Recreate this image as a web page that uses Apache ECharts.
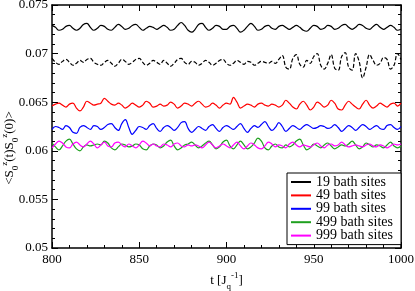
<!DOCTYPE html>
<html><head><meta charset="utf-8">
<script src="https://cdn.jsdelivr.net/npm/echarts@6/dist/echarts.min.js"></script>
<style>html,body{margin:0;padding:0;background:#fff}#c{width:415px;height:291px}</style>
</head><body><div id="c"></div>
<script>
const times = [];
for (let t = 800; t <= 1000; t += 2) times.push(t);

const sites19 = [
0.0729,0.0727,0.0724,0.0725,0.0728,0.0729,0.0726,0.0724,0.0726,0.0730,
0.0731,0.0727,0.0724,0.0726,0.0729,0.0728,0.0725,0.0724,0.0727,0.0730,
0.0728,0.0725,0.0726,0.0729,0.0730,0.0727,0.0724,0.0726,0.0728,0.0727,
0.0725,0.0727,0.0729,0.0727,0.0724,0.0725,0.0729,0.0732,0.0729,0.0724,
0.0722,0.0725,0.0730,0.0731,0.0727,0.0724,0.0726,0.0729,0.0728,0.0725,
0.0725,0.0728,0.0729,0.0726,0.0722,0.0724,0.0728,0.0731,0.0728,0.0724,
0.0725,0.0728,0.0729,0.0726,0.0725,0.0728,0.0729,0.0727,0.0725,0.0727,
0.0729,0.0727,0.0724,0.0723,0.0726,0.0729,0.0728,0.0725,0.0726,0.0729,
0.0728,0.0725,0.0726,0.0729,0.0730,0.0727,0.0725,0.0727,0.0730,0.0729,
0.0726,0.0725,0.0728,0.0730,0.0727,0.0725,0.0727,0.0729,0.0727,0.0724,
0.0725];

const sites19Dashed = [
0.0695,0.0691,0.0689,0.0692,0.0694,0.0691,0.0688,0.0690,0.0693,0.0691,
0.0694,0.0695,0.0691,0.0689,0.0688,0.0691,0.0693,0.0690,0.0687,0.0690,
0.0694,0.0692,0.0689,0.0691,0.0694,0.0695,0.0691,0.0688,0.0690,0.0693,
0.0691,0.0689,0.0693,0.0690,0.0687,0.0690,0.0694,0.0695,0.0691,0.0689,
0.0692,0.0691,0.0688,0.0690,0.0693,0.0691,0.0688,0.0690,0.0693,0.0694,
0.0690,0.0688,0.0690,0.0693,0.0691,0.0689,0.0692,0.0691,0.0688,0.0690,
0.0692,0.0691,0.0690,0.0692,0.0690,0.0694,0.0698,0.0686,0.0684,0.0695,
0.0699,0.0689,0.0686,0.0693,0.0690,0.0697,0.0700,0.0688,0.0684,0.0690,
0.0699,0.0685,0.0683,0.0697,0.0701,0.0686,0.0683,0.0700,0.0692,0.0675,
0.0686,0.0699,0.0693,0.0688,0.0690,0.0696,0.0694,0.0684,0.0688,0.0700,
0.0694];

const sites49 = [
0.0646,0.0648,0.0649,0.0647,0.0645,0.0648,0.0649,0.0644,0.0641,0.0645,
0.0651,0.0649,0.0647,0.0648,0.0649,0.0654,0.0651,0.0648,0.0647,0.0649,
0.0647,0.0644,0.0646,0.0649,0.0647,0.0645,0.0647,0.0651,0.0649,0.0645,
0.0646,0.0648,0.0646,0.0647,0.0650,0.0648,0.0644,0.0646,0.0649,0.0648,
0.0646,0.0649,0.0651,0.0648,0.0645,0.0646,0.0649,0.0647,0.0644,0.0647,
0.0649,0.0648,0.0655,0.0650,0.0644,0.0646,0.0648,0.0647,0.0645,0.0648,
0.0649,0.0647,0.0646,0.0648,0.0647,0.0645,0.0647,0.0652,0.0649,0.0645,
0.0643,0.0648,0.0651,0.0647,0.0642,0.0645,0.0650,0.0648,0.0645,0.0647,
0.0652,0.0649,0.0643,0.0642,0.0647,0.0651,0.0648,0.0645,0.0643,0.0648,
0.0652,0.0647,0.0644,0.0646,0.0649,0.0647,0.0645,0.0648,0.0649,0.0646,
0.0649];

const sites99 = [
0.0622,0.0625,0.0624,0.0622,0.0626,0.0624,0.0619,0.0618,0.0624,0.0626,
0.0624,0.0622,0.0626,0.0625,0.0622,0.0624,0.0627,0.0628,0.0624,0.0621,
0.0628,0.0632,0.0624,0.0617,0.0621,0.0625,0.0624,0.0622,0.0626,0.0628,
0.0623,0.0620,0.0624,0.0626,0.0624,0.0621,0.0624,0.0629,0.0630,0.0623,
0.0619,0.0622,0.0625,0.0623,0.0621,0.0625,0.0627,0.0623,0.0620,0.0624,
0.0626,0.0624,0.0622,0.0625,0.0628,0.0623,0.0619,0.0623,0.0626,0.0624,
0.0627,0.0630,0.0625,0.0621,0.0624,0.0629,0.0625,0.0620,0.0623,0.0626,
0.0624,0.0622,0.0625,0.0627,0.0625,0.0623,0.0624,0.0626,0.0625,0.0623,
0.0624,0.0627,0.0624,0.0620,0.0623,0.0626,0.0624,0.0621,0.0624,0.0627,
0.0625,0.0622,0.0624,0.0626,0.0623,0.0622,0.0626,0.0627,0.0624,0.0622,
0.0625];

const sites499 = [
0.0608,0.0604,0.0601,0.0605,0.0610,0.0612,0.0607,0.0602,0.0600,0.0604,
0.0606,0.0605,0.0606,0.0607,0.0606,0.0610,0.0608,0.0603,0.0601,0.0604,
0.0607,0.0606,0.0604,0.0605,0.0607,0.0606,0.0602,0.0601,0.0605,0.0607,
0.0606,0.0603,0.0605,0.0609,0.0611,0.0605,0.0601,0.0603,0.0606,0.0607,
0.0609,0.0606,0.0603,0.0605,0.0608,0.0610,0.0606,0.0602,0.0604,0.0609,
0.0611,0.0605,0.0602,0.0606,0.0610,0.0606,0.0602,0.0604,0.0608,0.0613,
0.0610,0.0603,0.0601,0.0605,0.0607,0.0604,0.0603,0.0606,0.0604,0.0606,
0.0610,0.0612,0.0606,0.0601,0.0603,0.0607,0.0605,0.0603,0.0606,0.0608,
0.0605,0.0602,0.0604,0.0606,0.0605,0.0607,0.0610,0.0606,0.0602,0.0604,
0.0608,0.0606,0.0604,0.0606,0.0605,0.0603,0.0606,0.0609,0.0605,0.0603,
0.0605];

const sites999 = [
0.0603,0.0607,0.0610,0.0608,0.0604,0.0603,0.0607,0.0609,0.0606,0.0604,
0.0607,0.0610,0.0607,0.0603,0.0606,0.0609,0.0605,0.0604,0.0608,0.0609,
0.0606,0.0604,0.0607,0.0605,0.0603,0.0606,0.0610,0.0608,0.0605,0.0607,
0.0605,0.0604,0.0607,0.0606,0.0604,0.0607,0.0608,0.0605,0.0604,0.0606,
0.0605,0.0606,0.0605,0.0603,0.0606,0.0609,0.0606,0.0603,0.0605,0.0607,
0.0605,0.0603,0.0606,0.0609,0.0605,0.0602,0.0605,0.0608,0.0606,0.0603,
0.0602,0.0605,0.0609,0.0607,0.0604,0.0606,0.0605,0.0603,0.0607,0.0609,
0.0606,0.0604,0.0606,0.0605,0.0604,0.0606,0.0608,0.0605,0.0603,0.0606,
0.0607,0.0605,0.0606,0.0609,0.0606,0.0604,0.0605,0.0606,0.0605,0.0604,
0.0606,0.0607,0.0605,0.0604,0.0606,0.0605,0.0603,0.0605,0.0607,0.0606,
0.0607];

const legendNames = ['19 bath sites','49 bath sites','99 bath sites','499 bath sites','999 bath sites'];
const xTicks = [800, 850, 900, 950, 1000];
const yTicks = [0.05, 0.055, 0.06, 0.065, 0.07, 0.075];
const yTitle = '{m|<S}{sub|0}{sup|z}{m|(t)S}{sub|0}{sup|z}{m|(0)>}';
const xTitle = '{m|t [J}{sub|q}{sup|-1}{m|]}';

const FONT = '"Liberation Serif","DejaVu Serif",serif';
const pair = arr => arr.map((v, i) => [times[i], v]);

const chart = echarts.init(document.getElementById('c'), null, {renderer: 'canvas'});

const axisLine = {show: true, lineStyle: {color: '#000', width: 1.5}};
const tick = {show: true, inside: true, length: 6, lineStyle: {color: '#000', width: 1}};
const minor = {show: true, splitNumber: 5, length: 3, lineStyle: {color: '#000', width: 1}};

function line(name, data, color, dashed) {
  return {
    name, type: 'line', data: pair(data), showSymbol: false, symbol: 'none',
    smooth: 0.4, animation: false,
    lineStyle: {color, width: 1.2, type: dashed ? [4, 2] : 'solid'},
    itemStyle: {color}
  };
}

const richStyles = {
  m: {fontFamily: FONT, fontSize: 13, color: '#000', lineHeight: 20, verticalAlign: 'middle'},
  sub: {fontFamily: FONT, fontSize: 9, color: '#000', lineHeight: 20, verticalAlign: 'bottom'},
  sup: {fontFamily: FONT, fontSize: 9, color: '#000', lineHeight: 20, verticalAlign: 'top'}
};

chart.setOption({
  animation: false,
  backgroundColor: '#fff',
  grid: {left: 52, right: 14, top: 5, bottom: 43, containLabel: false, outerBoundsMode: 'none'},
  graphic: [{
    type: 'text', x: 10, y: 148, rotation: Math.PI / 2,
    style: {text: yTitle, rich: richStyles, align: 'center', verticalAlign: 'middle',
      fontFamily: FONT, fontSize: 13, fill: '#000'}
  }],
  xAxis: [{
    type: 'value', min: xTicks[0], max: xTicks[xTicks.length - 1], interval: 50,
    axisLine, axisTick: tick, minorTick: minor, splitLine: {show: false},
    axisLabel: {color: '#000', fontFamily: FONT, fontSize: 13, margin: 5, formatter: v => String(v)},
    name: xTitle, nameLocation: 'middle', nameGap: 17,
    nameTextStyle: {color: '#000', fontFamily: FONT, fontSize: 13, rich: richStyles}
  }, {
    type: 'value', position: 'top', min: 800, max: 1000, interval: 50,
    axisLine, axisTick: tick, minorTick: minor, splitLine: {show: false},
    axisLabel: {show: false}
  }],
  yAxis: [{
    type: 'value', min: yTicks[0], max: yTicks[yTicks.length - 1], interval: 0.005,
    axisLine, axisTick: tick, minorTick: minor, splitLine: {show: false},
    axisLabel: {color: '#000', fontFamily: FONT, fontSize: 13, margin: 4,
      formatter: v => String(+v.toFixed(3))}
  }, {
    type: 'value', position: 'right', min: 0.05, max: 0.075, interval: 0.005,
    axisLine, axisTick: tick, minorTick: minor, splitLine: {show: false},
    axisLabel: {show: false}
  }],
  legend: {
    data: legendNames, orient: 'vertical', right: 14, top: 173,
    backgroundColor: '#fff', borderColor: '#000', borderWidth: 1,
    padding: [2, 8, 2, 4], itemGap: -0.6, itemWidth: 20, itemHeight: 2,
    icon: 'rect', align: 'left',
    textStyle: {fontFamily: FONT, fontSize: 14, color: '#000', padding: [0, 0, 0, 0]},
    itemStyle: {borderWidth: 0}
  },
  series: [
    line('19 bath sites', sites19, '#000000', false),
    line('19 bath sites (dashed)', sites19Dashed, '#000000', true),
    line('49 bath sites', sites49, '#ff0000', false),
    line('99 bath sites', sites99, '#0000ff', false),
    line('499 bath sites', sites499, '#1fa01f', false),
    line('999 bath sites', sites999, '#ff00ff', false)
  ]
});
</script>
</body></html>
